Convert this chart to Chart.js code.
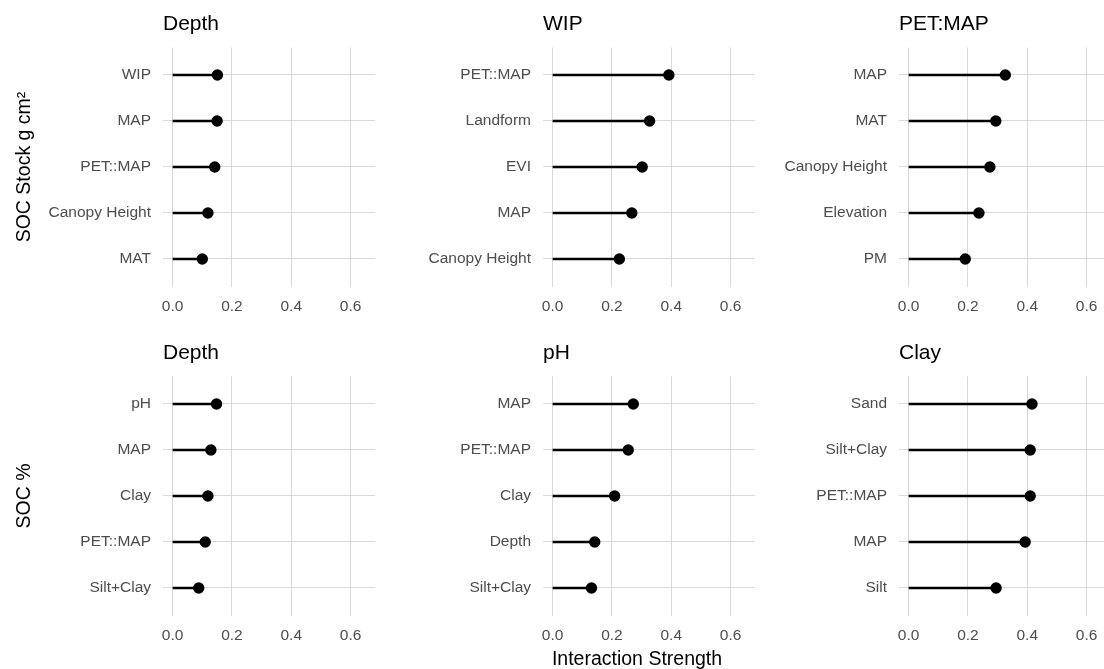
<!DOCTYPE html>
<html>
<head>
<meta charset="utf-8">
<title>Interaction Strength</title>
<script src="https://cdn.jsdelivr.net/npm/chart.js@4.4.1/dist/chart.umd.min.js"></script>
<style>
  html, body { margin: 0; padding: 0; background: #ffffff; }
  body { position: relative; width: 1104px; height: 669px; overflow: hidden; font-family: "Liberation Sans", Arial, sans-serif; }
  .panel { position: absolute; width: 375px; height: 327px; }
  #xtitle { position: absolute; left: 0; width: 1274px; top: 646px; text-align: center; font-size: 19.5px; color: #000; line-height: 24px; white-space: nowrap; }
</style>
</head>
<body>
<div class="panel" style="left:0px;top:0px"><canvas id="c0"></canvas></div>
<div class="panel" style="left:380px;top:0px"><canvas id="c1"></canvas></div>
<div class="panel" style="left:736px;top:0px"><canvas id="c2"></canvas></div>
<div class="panel" style="left:0px;top:329px"><canvas id="c3"></canvas></div>
<div class="panel" style="left:380px;top:329px"><canvas id="c4"></canvas></div>
<div class="panel" style="left:736px;top:329px"><canvas id="c5"></canvas></div>
<div id="xtitle">Interaction Strength</div>
<script>
// Top interaction partners per response (top row: SOC stock, bottom row: SOC %)
const stockDepthVars = ["WIP", "MAP", "PET::MAP", "Canopy Height", "MAT"];
const stockDepthVals = [0.151, 0.150, 0.142, 0.119, 0.100];

const stockWipVars = ["PET::MAP", "Landform", "EVI", "MAP", "Canopy Height"];
const stockWipVals = [0.392, 0.327, 0.302, 0.267, 0.225];

const stockPetVars = ["MAP", "MAT", "Canopy Height", "Elevation", "PM"];
const stockPetVals = [0.326, 0.294, 0.274, 0.237, 0.191];

const pctDepthVars = ["pH", "MAP", "Clay", "PET::MAP", "Silt+Clay"];
const pctDepthVals = [0.148, 0.129, 0.119, 0.110, 0.088];

const pctPhVars = ["MAP", "PET::MAP", "Clay", "Depth", "Silt+Clay"];
const pctPhVals = [0.272, 0.255, 0.209, 0.142, 0.131];

const pctClayVars = ["Sand", "Silt+Clay", "PET::MAP", "MAP", "Silt"];
const pctClayVals = [0.416, 0.410, 0.410, 0.393, 0.295];

const panelTitles = ["Depth", "WIP", "PET:MAP", "Depth", "pH", "Clay"];
const rowTitles = ["SOC Stock g cm\u00B2", "SOC %"];
const xTicks = [0, 0.2, 0.4, 0.6];
const xLimits = [0, 0.65];

const panels = [
  [stockDepthVars, stockDepthVals],
  [stockWipVars, stockWipVals],
  [stockPetVars, stockPetVals],
  [pctDepthVars, pctDepthVals],
  [pctPhVars, pctPhVals],
  [pctClayVars, pctClayVals]
];

const FONT = "'Liberation Sans', Arial, sans-serif";
const GRID = "#d9d9d9";
const TICK_COLOR = "#4d4d4d";
const xPad = (xLimits[1] - xLimits[0]) * 0.05;

function makePanel(idx) {
  const [vars, vals] = panels[idx];
  const n = vars.length;
  // first category sits on top
  const yOf = i => n - i;
  const stems = vars.map((v, i) => ({
    type: "line",
    data: [{ x: 0, y: yOf(i) }, { x: vals[i], y: yOf(i) }],
    borderColor: "#000000",
    borderWidth: 2.3,
    borderCapStyle: "butt",
    pointRadius: 0,
    showLine: true,
    fill: false
  }));
  const dots = {
    type: "scatter",
    data: vals.map((v, i) => ({ x: v, y: yOf(i) })),
    backgroundColor: "#000000",
    borderWidth: 0,
    pointRadius: 5.7,
    showLine: false
  };
  const firstCol = idx % 3 === 0;
  const row = Math.floor(idx / 3);

  new Chart(document.getElementById("c" + idx), {
    type: "scatter",
    data: { datasets: [...stems, dots] },
    options: {
      responsive: true,
      maintainAspectRatio: false,
      animation: false,
      events: [],
      layout: { padding: 0, autoPadding: false },
      plugins: {
        legend: { display: false },
        tooltip: { enabled: false },
        title: {
          display: true,
          text: panelTitles[idx],
          align: "start",
          fullSize: false,
          color: "#000000",
          font: { family: FONT, size: 21, weight: "normal", lineHeight: 1.2 },
          padding: { top: 11.5, bottom: 10.7 }
        }
      },
      scales: {
        x: {
          type: "linear",
          min: xLimits[0] - xPad,
          max: xLimits[1] + xPad,
          afterBuildTicks: s => { s.ticks = xTicks.map(v => ({ value: v })); },
          afterFit: s => { s.height = 40.4; },
          grid: { color: GRID, lineWidth: 1, drawTicks: false },
          border: { display: false },
          ticks: {
            padding: 11,
            color: TICK_COLOR,
            font: { family: FONT, size: 15.5 },
            maxRotation: 0,
            callback: v => v.toFixed(1)
          }
        },
        y: {
          type: "linear",
          min: 0.4,
          max: n + 0.6,
          afterBuildTicks: s => { s.ticks = vars.map((v, i) => ({ value: yOf(i) })); },
          afterFit: s => { s.width = 163; },
          grid: { color: GRID, lineWidth: 1, drawTicks: false },
          border: { display: false },
          ticks: {
            padding: 12,
            color: TICK_COLOR,
            font: { family: FONT, size: 15.5 },
            callback: value => vars[n - value]
          },
          title: {
            display: firstCol,
            text: rowTitles[row],
            color: "#000000",
            font: { family: FONT, size: 19.5, lineHeight: 1.2 },
            padding: { top: 13, bottom: 0 }
          }
        }
      }
    }
  });
}

for (let i = 0; i < panels.length; i++) makePanel(i);
</script>
</body>
</html>
